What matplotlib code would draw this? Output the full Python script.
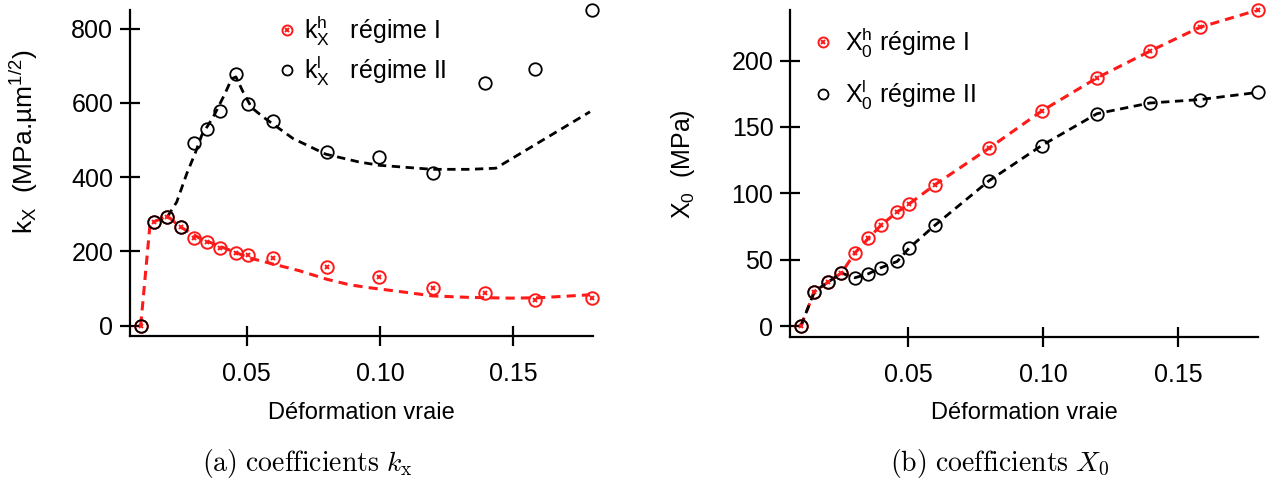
import matplotlib
matplotlib.use("Agg")
import matplotlib.pyplot as plt
from matplotlib.legend_handler import HandlerTuple

# ---- data ----
strain = [0.0103, 0.0153, 0.0203, 0.0253, 0.0303, 0.0353, 0.040, 0.046,
          0.0504, 0.060, 0.080, 0.0995, 0.120, 0.1395, 0.158, 0.1795]

kx_h = [0, 280, 293, 265, 237, 225, 209, 195, 189, 182, 157, 131, 100, 87, 69, 75]
kx_l = [0, 280, 293, 265, 491, 530, 577, 677, 598, 551, 468, 454, 410, 654, 690, 851]

# fitted curves (dashed) in panel (a)
fit_h_x = [0.0103, 0.0137, 0.0153, 0.0203, 0.0251, 0.0325, 0.0512, 0.0566, 0.0697,
           0.080, 0.0886, 0.095, 0.1104, 0.1196, 0.1334, 0.1488, 0.1595, 0.1787]
fit_h_y = [0, 266, 280, 295, 266, 235, 182, 172, 148,
           125, 110, 103, 89, 80, 76, 74, 75, 83]
fit_l_x = [0.0203, 0.0238, 0.0276, 0.0307, 0.0332, 0.0375, 0.0419, 0.0444, 0.046,
           0.0487, 0.0519, 0.0562, 0.0674, 0.0796, 0.092, 0.0996, 0.1104, 0.1196,
           0.1334, 0.1434, 0.1787]
fit_l_y = [293, 333, 410, 464, 513, 562, 625, 665, 670,
           629, 587, 562, 504, 462, 441, 432, 426, 421,
           421, 424, 576]

x0_h = [0, 26, 33, 40, 55, 66, 76, 86, 92, 106.5, 134, 162, 187, 207, 225, 238]
x0_l = [0, 26, 33, 40, 36.4, 39.4, 44, 48.7, 58.8, 76, 109.5, 136, 160, 168, 170.6, 176]

kx_ticks = [0, 200, 400, 600, 800]
x0_ticks = [0, 50, 100, 150, 200]
strain_ticks = [0.05, 0.10, 0.15]
strain_labels = ["0.05", "0.10", "0.15"]

# ---- style ----
plt.rcParams["font.family"] = ["Liberation Sans", "DejaVu Sans"]
plt.rcParams["mathtext.fontset"] = "custom"
plt.rcParams["mathtext.rm"] = "Liberation Sans"
plt.rcParams["mathtext.it"] = "Liberation Sans:italic"
plt.rcParams["mathtext.bf"] = "Liberation Sans:bold"

RED = "#ff1a1a"

fig = plt.figure(figsize=(12.71, 4.8), dpi=100)
ax1 = fig.add_axes([0.1023, 0.300, 0.3640, 0.679])
ax2 = fig.add_axes([0.6216, 0.2985, 0.3684, 0.6805])


def style_axes(ax, yticks, ylim):
    for s in ["top", "right"]:
        ax.spines[s].set_visible(False)
    for s in ["left", "bottom"]:
        ax.spines[s].set_linewidth(1.6)
    ax.set_xlim(0.0063, 0.1797)
    ax.set_ylim(*ylim)
    ax.set_xticks(strain_ticks)
    ax.set_xticklabels(strain_labels)
    ax.set_yticks(yticks)
    ax.tick_params(direction="inout", length=14, width=1.6, labelsize=18)
    ax.tick_params(axis="x", pad=12)
    ax.tick_params(axis="y", pad=5)
    ax.set_xlabel("Déformation vraie", fontsize=17, labelpad=11)


def draw_points(ax, y_h, y_l, ms=9):
    r_c, = ax.plot(strain, y_h, ls="none", marker="o", ms=ms, mfc="none",
                   mec=RED, mew=1.4, clip_on=False, zorder=4)
    r_x, = ax.plot(strain, y_h, ls="none", marker="x", ms=3.5, mec=RED,
                   mew=1.4, clip_on=False, zorder=4)
    b_c, = ax.plot(strain, y_l, ls="none", marker="o", ms=ms, mfc="none",
                   mec="black", mew=1.3, clip_on=False, zorder=5)
    return r_c, r_x, b_c


# ---- panel (a) ----
style_axes(ax1, kx_ticks, (-28, 850))
ax1.plot(fit_h_x, fit_h_y, color=RED, lw=2.2, ls=(0, (3, 2)), zorder=3)
ax1.plot(fit_l_x, fit_l_y, color="black", lw=2.0, ls=(0, (3, 2)), zorder=3)
r_c, r_x, b_c = draw_points(ax1, kx_h, kx_l)
ax1.set_ylabel(r"$\mathrm{k}_\mathrm{X}$  (MPa.µm$^{1/2}$)", fontsize=19)
ax1.yaxis.set_label_coords(-0.195, 0.595)
ax1.legend([(r_c, r_x), b_c],
           [r"$\mathrm{k}^\mathrm{h}_\mathrm{X}$   régime I",
            r"$\mathrm{k}^\mathrm{l}_\mathrm{X}$   régime II"],
           handler_map={tuple: HandlerTuple(ndivide=1)},
           loc="upper left", bbox_to_anchor=(0.268, 1.058), frameon=False,
           fontsize=18, handlelength=0.8, handletextpad=0.3, labelspacing=0.25,
           markerscale=0.8)

# ---- panel (b) ----
style_axes(ax2, x0_ticks, (-8, 238))
ax2.plot(strain, x0_h, color=RED, lw=2.2, ls=(0, (3, 2)), zorder=3)
ax2.plot(strain, x0_l, color="black", lw=2.0, ls=(0, (3, 2)), zorder=3)
r_c2, r_x2, b_c2 = draw_points(ax2, x0_h, x0_l)
ax2.set_ylabel(r"$\mathrm{X}_\mathrm{0}$  (MPa)", fontsize=18)
ax2.yaxis.set_label_coords(-0.199, 0.529)
ax2.legend([(r_c2, r_x2), b_c2],
           [r"$\mathrm{X}^\mathrm{h}_\mathrm{0}$ régime I",
            r"$\mathrm{X}^\mathrm{l}_\mathrm{0}$ régime II"],
           handler_map={tuple: HandlerTuple(ndivide=1)},
           loc="upper left", bbox_to_anchor=(0.0, 1.02), frameon=False,
           fontsize=18, handlelength=0.8, handletextpad=0.5, labelspacing=0.72,
           markerscale=0.8)

# ---- captions ----
fig.text(0.2415, 0.035, r"$\mathrm{(a)\ coefficients}\ k_\mathrm{x}$",
         fontsize=20, ha="center", va="center", math_fontfamily="cm")
fig.text(0.787, 0.035, r"$\mathrm{(b)\ coefficients}\ X_0$",
         fontsize=20, ha="center", va="center", math_fontfamily="cm")

fig.savefig("out.png", dpi=100)
